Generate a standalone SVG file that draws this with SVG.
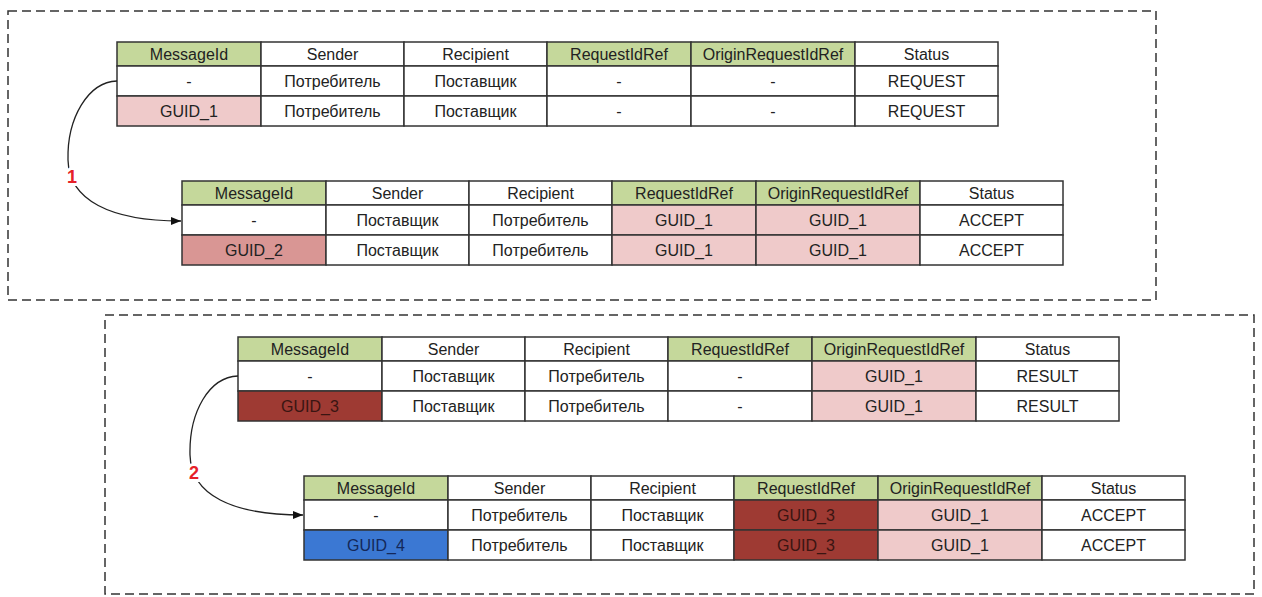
<svg xmlns="http://www.w3.org/2000/svg" width="1262" height="597" viewBox="0 0 1262 597">
<defs>
<style>
.frame{fill:none;stroke:#333;stroke-width:1.5;stroke-dasharray:9 5}
.c{stroke:#333;stroke-width:1.5;fill:#fff}
.g{fill:#c5d89b}
.p{fill:#efcaca}
.p2{fill:#d99694}
.r{fill:#9e3a33}
.b{fill:#3b78d3}
text{font-family:"Liberation Sans",Arial,sans-serif;font-size:16px;fill:#222;text-anchor:middle}
.dk{fill:#3a1512}
.nv{fill:#14285a}
.lbl{font-size:18px;font-weight:bold;fill:#e62129;stroke:#fff;stroke-width:6;paint-order:stroke}
.con{fill:none;stroke:#222;stroke-width:1.3}
</style>
<marker id="ah" viewBox="0 0 10 10" refX="10" refY="5" markerWidth="10" markerHeight="10" markerUnits="userSpaceOnUse" orient="auto">
<path d="M0,1 L10,5 L0,9 Z" fill="#111"/>
</marker>
</defs>
<rect width="1262" height="597" fill="#fff"/>
<g id="frames">
<rect class="frame" x="8" y="11" width="1148" height="289"/>
<rect class="frame" x="105" y="315" width="1149" height="279"/>
</g>

<g id="table1" transform="translate(117,42)">
<rect class="c g" x="0" y="0" width="144" height="24"/><rect class="c" x="144" y="0" width="143" height="24"/><rect class="c" x="287" y="0" width="143" height="24"/><rect class="c g" x="430" y="0" width="144" height="24"/><rect class="c g" x="574" y="0" width="164" height="24"/><rect class="c" x="738" y="0" width="143" height="24"/>
<rect class="c" x="0" y="24" width="144" height="30"/><rect class="c" x="144" y="24" width="143" height="30"/><rect class="c" x="287" y="24" width="143" height="30"/><rect class="c" x="430" y="24" width="144" height="30"/><rect class="c" x="574" y="24" width="164" height="30"/><rect class="c" x="738" y="24" width="143" height="30"/>
<rect class="c p" x="0" y="54" width="144" height="30"/><rect class="c" x="144" y="54" width="143" height="30"/><rect class="c" x="287" y="54" width="143" height="30"/><rect class="c" x="430" y="54" width="144" height="30"/><rect class="c" x="574" y="54" width="164" height="30"/><rect class="c" x="738" y="54" width="143" height="30"/>
<text x="72" y="17.5">MessageId</text><text x="215.5" y="17.5">Sender</text><text x="358.5" y="17.5">Recipient</text><text x="502" y="17.5">RequestIdRef</text><text x="656" y="17.5">OriginRequestIdRef</text><text x="809.5" y="17.5">Status</text>
<text x="72" y="44.5">-</text><text x="215.5" y="44.5">Потребитель</text><text x="358.5" y="44.5">Поставщик</text><text x="502" y="44.5">-</text><text x="656" y="44.5">-</text><text x="809.5" y="44.5">REQUEST</text>
<text x="72" y="74.5">GUID_1</text><text x="215.5" y="74.5">Потребитель</text><text x="358.5" y="74.5">Поставщик</text><text x="502" y="74.5">-</text><text x="656" y="74.5">-</text><text x="809.5" y="74.5">REQUEST</text>
</g>

<g id="table2" transform="translate(182,181)">
<rect class="c g" x="0" y="0" width="144" height="24"/><rect class="c" x="144" y="0" width="143" height="24"/><rect class="c" x="287" y="0" width="143" height="24"/><rect class="c g" x="430" y="0" width="144" height="24"/><rect class="c g" x="574" y="0" width="164" height="24"/><rect class="c" x="738" y="0" width="143" height="24"/>
<rect class="c" x="0" y="24" width="144" height="30"/><rect class="c" x="144" y="24" width="143" height="30"/><rect class="c" x="287" y="24" width="143" height="30"/><rect class="c p" x="430" y="24" width="144" height="30"/><rect class="c p" x="574" y="24" width="164" height="30"/><rect class="c" x="738" y="24" width="143" height="30"/>
<rect class="c p2" x="0" y="54" width="144" height="30"/><rect class="c" x="144" y="54" width="143" height="30"/><rect class="c" x="287" y="54" width="143" height="30"/><rect class="c p" x="430" y="54" width="144" height="30"/><rect class="c p" x="574" y="54" width="164" height="30"/><rect class="c" x="738" y="54" width="143" height="30"/>
<text x="72" y="17.5">MessageId</text><text x="215.5" y="17.5">Sender</text><text x="358.5" y="17.5">Recipient</text><text x="502" y="17.5">RequestIdRef</text><text x="656" y="17.5">OriginRequestIdRef</text><text x="809.5" y="17.5">Status</text>
<text x="72" y="44.5">-</text><text x="215.5" y="44.5">Поставщик</text><text x="358.5" y="44.5">Потребитель</text><text x="502" y="44.5">GUID_1</text><text x="656" y="44.5">GUID_1</text><text x="809.5" y="44.5">ACCEPT</text>
<text x="72" y="74.5">GUID_2</text><text x="215.5" y="74.5">Поставщик</text><text x="358.5" y="74.5">Потребитель</text><text x="502" y="74.5">GUID_1</text><text x="656" y="74.5">GUID_1</text><text x="809.5" y="74.5">ACCEPT</text>
</g>

<g id="table3" transform="translate(238,337)">
<rect class="c g" x="0" y="0" width="144" height="24"/><rect class="c" x="144" y="0" width="143" height="24"/><rect class="c" x="287" y="0" width="143" height="24"/><rect class="c g" x="430" y="0" width="144" height="24"/><rect class="c g" x="574" y="0" width="164" height="24"/><rect class="c" x="738" y="0" width="143" height="24"/>
<rect class="c" x="0" y="24" width="144" height="30"/><rect class="c" x="144" y="24" width="143" height="30"/><rect class="c" x="287" y="24" width="143" height="30"/><rect class="c" x="430" y="24" width="144" height="30"/><rect class="c p" x="574" y="24" width="164" height="30"/><rect class="c" x="738" y="24" width="143" height="30"/>
<rect class="c r" x="0" y="54" width="144" height="30"/><rect class="c" x="144" y="54" width="143" height="30"/><rect class="c" x="287" y="54" width="143" height="30"/><rect class="c" x="430" y="54" width="144" height="30"/><rect class="c p" x="574" y="54" width="164" height="30"/><rect class="c" x="738" y="54" width="143" height="30"/>
<text x="72" y="17.5">MessageId</text><text x="215.5" y="17.5">Sender</text><text x="358.5" y="17.5">Recipient</text><text x="502" y="17.5">RequestIdRef</text><text x="656" y="17.5">OriginRequestIdRef</text><text x="809.5" y="17.5">Status</text>
<text x="72" y="44.5">-</text><text x="215.5" y="44.5">Поставщик</text><text x="358.5" y="44.5">Потребитель</text><text x="502" y="44.5">-</text><text x="656" y="44.5">GUID_1</text><text x="809.5" y="44.5">RESULT</text>
<text class="dk" x="72" y="74.5">GUID_3</text><text x="215.5" y="74.5">Поставщик</text><text x="358.5" y="74.5">Потребитель</text><text x="502" y="74.5">-</text><text x="656" y="74.5">GUID_1</text><text x="809.5" y="74.5">RESULT</text>
</g>

<g id="table4" transform="translate(304,476)">
<rect class="c g" x="0" y="0" width="144" height="24"/><rect class="c" x="144" y="0" width="143" height="24"/><rect class="c" x="287" y="0" width="143" height="24"/><rect class="c g" x="430" y="0" width="144" height="24"/><rect class="c g" x="574" y="0" width="164" height="24"/><rect class="c" x="738" y="0" width="143" height="24"/>
<rect class="c" x="0" y="24" width="144" height="30"/><rect class="c" x="144" y="24" width="143" height="30"/><rect class="c" x="287" y="24" width="143" height="30"/><rect class="c r" x="430" y="24" width="144" height="30"/><rect class="c p" x="574" y="24" width="164" height="30"/><rect class="c" x="738" y="24" width="143" height="30"/>
<rect class="c b" x="0" y="54" width="144" height="30"/><rect class="c" x="144" y="54" width="143" height="30"/><rect class="c" x="287" y="54" width="143" height="30"/><rect class="c r" x="430" y="54" width="144" height="30"/><rect class="c p" x="574" y="54" width="164" height="30"/><rect class="c" x="738" y="54" width="143" height="30"/>
<text x="72" y="17.5">MessageId</text><text x="215.5" y="17.5">Sender</text><text x="358.5" y="17.5">Recipient</text><text x="502" y="17.5">RequestIdRef</text><text x="656" y="17.5">OriginRequestIdRef</text><text x="809.5" y="17.5">Status</text>
<text x="72" y="44.5">-</text><text x="215.5" y="44.5">Потребитель</text><text x="358.5" y="44.5">Поставщик</text><text class="dk" x="502" y="44.5">GUID_3</text><text x="656" y="44.5">GUID_1</text><text x="809.5" y="44.5">ACCEPT</text>
<text class="nv" x="72" y="74.5">GUID_4</text><text x="215.5" y="74.5">Потребитель</text><text x="358.5" y="74.5">Поставщик</text><text class="dk" x="502" y="74.5">GUID_3</text><text x="656" y="74.5">GUID_1</text><text x="809.5" y="74.5">ACCEPT</text>
</g>

<g id="connectors">
<path class="con" d="M117,81 C88,82 67,118 68,160 C69,200 110,221 181,221" marker-end="url(#ah)"/>
<text class="lbl" x="72" y="183">1</text>
<path class="con" d="M238,376 C209,377 189,412 190,455 C191,495 232,515 303,515" marker-end="url(#ah)"/>
<text class="lbl" x="194" y="479">2</text>
</g>
</svg>
